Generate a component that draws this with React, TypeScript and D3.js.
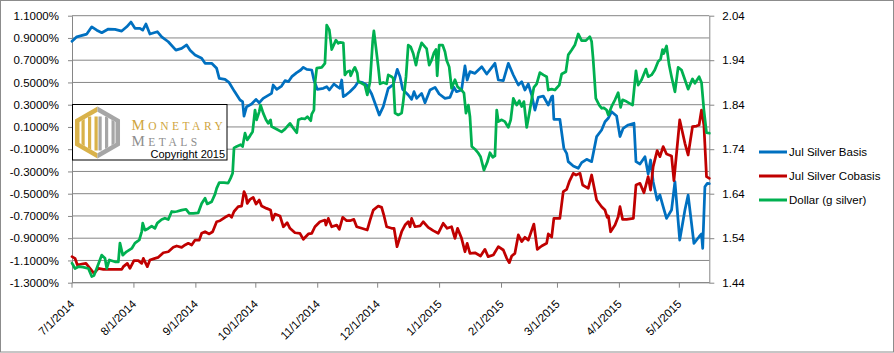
import React, { useEffect, useRef } from 'react';
import * as d3 from 'd3';

// day offsets counted from 7/1/2014
const startDate = new Date(2014, 6, 1);
const endDay = 319;

const monthTicks = ['7/1/2014', '8/1/2014', '9/1/2014', '10/1/2014', '11/1/2014', '12/1/2014', '1/1/2015', '2/1/2015', '3/1/2015', '4/1/2015', '5/1/2015'];
const leftTicks = [-1.3, -1.1, -0.9, -0.7, -0.5, -0.3, -0.1, 0.1, 0.3, 0.5, 0.7, 0.9, 1.1];
const rightTicks = [1.44, 1.54, 1.64, 1.74, 1.84, 1.94, 2.04];
const legendLabels = ['Jul Silver Basis', 'Jul Silver Cobasis', 'Dollar (g silver)'];
const seriesColors = ['#0070C0', '#C00000', '#00B050'];

// [day, basis %]
const basisSeries: [number, number][] = [
  [0, 0.87], [2.4, 0.91], [7.4, 0.935], [9.9, 1.0], [12.4, 0.97], [14.9, 0.947], [18.2, 0.98], [21.5, 0.977], [24.9, 0.962], [27.4, 1.0],
  [29.5, 1.043], [31.5, 0.987], [34, 0.987], [35.4, 0.97], [37, 1.025], [39, 0.935], [42.7, 0.956], [44.9, 0.91], [48.2, 0.866], [52, 0.79],
  [54.9, 0.806], [57.4, 0.837], [59.1, 0.79], [61.6, 0.747], [64.9, 0.717], [66.6, 0.672], [69.9, 0.672], [72.4, 0.627], [73.7, 0.537], [76.6, 0.528],
  [78.7, 0.498], [81.3, 0.42], [84.1, 0.342], [85.4, 0.327], [86.1, 0.198], [87.4, 0.282], [89.9, 0.306], [92.1, 0.348], [93.7, 0.318], [95.7, 0.357],
  [99.9, 0.402], [100.7, 0.477], [102.5, 0.438], [104.9, 0.468], [106.6, 0.516], [108.3, 0.507], [110, 0.552], [112.5, 0.588], [114.5, 0.612], [115.8, 0.636],
  [117.5, 0.618], [120, 0.612], [121.1, 0.522], [122.8, 0.438], [125.8, 0.447], [127.5, 0.462], [128.8, 0.432], [131.1, 0.486], [132.8, 0.462], [134.1, 0.447],
  [135, 0.522], [135.8, 0.372], [137.1, 0.387], [139.1, 0.417], [141.6, 0.462], [143.3, 0.507], [145.5, 0.498], [147.5, 0.477], [150, 0.396], [152, 0.297],
  [153.8, 0.207], [155.8, 0.282], [158.3, 0.447], [160.8, 0.48], [162.8, 0.618], [164.2, 0.552], [165.5, 0.438], [168.3, 0.387], [170, 0.348], [171.2, 0.417],
  [172.5, 0.357], [175, 0.402], [176.7, 0.318], [179.2, 0.432], [181.7, 0.456], [183.8, 0.396], [186.7, 0.357], [189.2, 0.366], [191.2, 0.456], [192.5, 0.417],
  [195, 0.432], [196.7, 0.648], [197.8, 0.522], [199.2, 0.597], [201.7, 0.582], [205.1, 0.642], [207.6, 0.576], [211.7, 0.672], [213.4, 0.522], [215.9, 0.516],
  [218.4, 0.672], [220.9, 0.567], [223.4, 0.477], [225.1, 0.507], [226.7, 0.432], [228.4, 0.486], [230.1, 0.387], [231.7, 0.252], [233.4, 0.366], [235.9, 0.378],
  [238.4, 0.297], [240.1, 0.372], [240.6, 0.378], [241.2, 0.169], [244.2, 0.169], [246.2, -0.092], [247.6, -0.137], [248.4, -0.212], [250.9, -0.251], [253.4, -0.272],
  [255.1, -0.221], [257.6, -0.191], [260.1, -0.212], [262.6, 0.013], [265.1, 0.073], [266.8, 0.147], [268.4, 0.178], [270.1, 0.237], [272.6, 0.198], [274.3, 0.013],
  [275.9, 0.088], [278.4, 0.118], [281.3, 0.133], [282.3, -0.212], [284.3, -0.233], [286.8, -0.167], [288.4, -0.323], [289.6, -0.197], [290.9, -0.392], [292.9, -0.557],
  [294.3, -0.512], [295.9, -0.617], [297.6, -0.722], [300.1, -0.647], [301.8, -0.392], [304.2, -0.917], [306.8, -0.647], [308.4, -0.512], [311.3, -0.946], [313.9, -0.887],
  [315.1, -0.862], [315.7, -0.991], [316.8, -0.437], [318, -0.407], [319, -0.41],
];

// [day, cobasis %]
const cobasisSeries: [number, number][] = [
  [0, -1.066], [1.5, -1.081], [2.7, -1.141], [4.9, -1.132], [7, -1.126], [9, -1.171], [11, -1.216], [13.2, -1.171], [15.7, -1.18], [19, -1.18],
  [22.4, -1.18], [24.9, -1.18], [25.7, -1.156], [27.7, -1.126], [29, -1.171], [31, -1.102], [33.2, -1.102], [34.9, -1.126], [35.7, -1.081], [37.7, -1.156],
  [39, -1.096], [41.5, -1.081], [43.2, -1.072], [45.7, -1.031], [48.2, -1.022], [50.7, -0.982], [52.4, -0.97], [54.9, -0.982], [56.6, -0.961], [58.2, -0.946],
  [59.9, -0.961], [61.6, -0.917], [63.7, -0.917], [64.9, -0.856], [66.6, -0.842], [68.7, -0.862], [70.4, -0.842], [72.4, -0.752], [74.1, -0.743], [76.6, -0.712],
  [78.7, -0.692], [79.9, -0.712], [81.1, -0.66], [83.2, -0.617], [84.9, -0.611], [86.1, -0.482], [87.1, -0.521], [87.7, -0.587], [89.1, -0.551], [90.7, -0.533],
  [92.1, -0.593], [93.7, -0.557], [94.9, -0.611], [97.4, -0.632], [99.4, -0.647], [100.4, -0.737], [101.6, -0.683], [104.1, -0.7], [105.8, -0.797], [107.7, -0.761],
  [109.1, -0.811], [111.6, -0.851], [114.1, -0.856], [115.8, -0.91], [118.3, -0.862], [120, -0.856], [121.6, -0.797], [124.1, -0.752], [126.6, -0.737], [127.1, -0.782],
  [128.3, -0.722], [130, -0.797], [132.5, -0.782], [133.8, -0.82], [135.5, -0.712], [137.5, -0.743], [139.1, -0.743], [141.1, -0.731], [142.5, -0.797], [145, -0.811],
  [147.8, -0.826], [149.2, -0.737], [150.8, -0.647], [153.3, -0.611], [155, -0.623], [156.2, -0.7], [157.5, -0.797], [160, -0.811], [161.2, -0.811], [162.7, -0.976],
  [165, -0.842], [166.7, -0.782], [168.3, -0.752], [169.2, -0.797], [170, -0.722], [171.7, -0.797], [174.2, -0.79], [175.8, -0.752], [178.3, -0.802], [180.8, -0.832],
  [183.3, -0.856], [185.8, -0.766], [187.8, -0.811], [190, -0.797], [191.7, -0.901], [193, -0.811], [195, -0.901], [196.7, -1.022], [197.8, -0.946], [199.2, -1.036],
  [201.7, -1.031], [204.5, -1.06], [206.7, -1.0], [208.3, -1.066], [210.9, -1.051], [213.4, -0.976], [215.9, -1.006], [217.6, -1.081], [218.9, -1.12], [220.1, -1.06],
  [221.7, -1.036], [223.4, -0.871], [225.1, -0.931], [226.7, -0.892], [228.4, -0.917], [231.2, -0.773], [232.9, -1.0], [235.1, -0.97], [237.6, -0.946], [238.4, -0.862],
  [240.1, -0.89], [241.2, -0.722], [244.2, -0.722], [245.9, -0.482], [247.6, -0.461], [248.9, -0.392], [250.9, -0.317], [252.3, -0.332], [254.3, -0.317], [255.6, -0.422],
  [258.4, -0.452], [260.1, -0.332], [262.6, -0.557], [265.1, -0.617], [266.8, -0.647], [267.9, -0.712], [268.5, -0.7], [269.6, -0.842], [271.8, -0.782], [273.4, -0.707],
  [274.3, -0.617], [275.6, -0.731], [277.6, -0.731], [281, -0.722], [282.3, -0.422], [284.3, -0.407], [286.3, -0.491], [288.4, -0.347], [289.6, -0.467], [290.9, -0.257],
  [292.9, -0.113], [294.3, -0.167], [295.9, -0.077], [297.6, -0.143], [300.1, -0.161], [301.3, -0.383], [304.2, 0.163], [306.8, -0.047], [308.4, -0.152], [310.6, 0.103],
  [312.6, 0.108], [313.9, 0.118], [315.1, 0.252], [316.3, 0.118], [317.6, -0.347], [319, -0.362],
];

// [day, dollar in grams of silver]
const dollarSeries: [number, number][] = [
  [0, 1.484], [1.5, 1.472], [3.2, 1.476], [5.5, 1.475], [8.2, 1.472], [9.9, 1.454], [11, 1.456], [12.7, 1.476], [14.9, 1.502], [16.5, 1.495],
  [17.4, 1.472], [18.7, 1.491], [21.5, 1.487], [23.2, 1.487], [24, 1.529], [25.4, 1.502], [27.4, 1.51], [29.9, 1.517], [31.5, 1.529], [33.7, 1.536],
  [34.9, 1.555], [35.4, 1.574], [36.5, 1.558], [38.2, 1.562], [39.9, 1.567], [41.5, 1.562], [42.7, 1.574], [44.9, 1.582], [46.5, 1.585], [48.2, 1.582],
  [49.9, 1.6], [51, 1.599], [52.4, 1.6], [54.9, 1.603], [57.1, 1.605], [58.7, 1.596], [60.7, 1.596], [63.2, 1.597], [64.9, 1.618], [66.6, 1.63],
  [67.7, 1.617], [69.9, 1.622], [71.6, 1.639], [72.4, 1.652], [73.7, 1.665], [76.1, 1.665], [78.2, 1.664], [79.4, 1.675], [80.4, 1.686], [81.1, 1.743],
  [82.4, 1.746], [84.4, 1.75], [85.4, 1.746], [86.6, 1.776], [87.7, 1.761], [89.1, 1.77], [90.4, 1.779], [91.6, 1.828], [92.4, 1.806], [93.7, 1.824],
  [94.4, 1.839], [95.7, 1.821], [97.1, 1.806], [98.2, 1.798], [99.4, 1.806], [99.9, 1.791], [102.5, 1.785], [104.9, 1.779], [106.6, 1.785], [108.3, 1.794],
  [109.1, 1.798], [110.5, 1.789], [112.5, 1.777], [113.3, 1.806], [115, 1.809], [116.5, 1.808], [117.8, 1.813], [119.5, 1.804], [120, 1.819], [121.1, 1.828],
  [121.6, 1.888], [122.5, 1.922], [125, 1.924], [126.6, 1.933], [127.5, 2.019], [128.8, 2.008], [130, 1.964], [132.1, 1.985], [133.3, 1.978], [134.1, 1.98],
  [135.8, 1.979], [136.6, 1.907], [137.8, 1.914], [139.1, 1.916], [139.5, 1.905], [140.8, 1.918], [141.6, 1.924], [142.8, 1.911], [143.3, 1.892], [145, 1.888],
  [146.6, 1.884], [147.8, 1.862], [149.2, 1.892], [150.5, 1.982], [151.1, 2.006], [152.1, 1.97], [153.3, 1.925], [154.2, 1.887], [155.8, 1.89], [157.5, 1.887],
  [158.3, 1.907], [160, 1.903], [160.8, 1.899], [161.7, 1.821], [163.3, 1.817], [165, 1.821], [165.8, 1.847], [167.2, 1.903], [168.3, 1.974], [169.5, 1.97],
  [170.8, 1.955], [172.2, 1.929], [173.3, 1.955], [175, 1.979], [176.7, 1.97], [177.5, 1.966], [178.8, 1.929], [180, 1.94], [181.2, 1.957], [182.2, 1.964],
  [182.8, 1.905], [183.8, 1.974], [185.5, 1.974], [186.7, 1.959], [187.5, 1.94], [188.8, 1.925], [190, 1.877], [191.7, 1.896], [193, 1.88], [195, 1.873],
  [196.2, 1.866], [197.2, 1.821], [198.4, 1.839], [199.2, 1.813], [200.1, 1.746], [201.7, 1.74], [203.4, 1.731], [204.5, 1.723], [206.2, 1.693], [207.8, 1.71],
  [209.2, 1.732], [210.6, 1.722], [211.7, 1.725], [212.6, 1.828], [213.4, 1.802], [215.1, 1.806], [216.7, 1.802], [217.6, 1.795], [218.4, 1.789], [219.6, 1.806],
  [220.9, 1.854], [222.6, 1.839], [223.9, 1.849], [225.1, 1.836], [226.2, 1.847], [227.6, 1.789], [228.9, 1.821], [230.1, 1.852], [231.2, 1.879], [232.6, 1.887],
  [234.2, 1.912], [235.9, 1.907], [237.6, 1.903], [238.4, 1.873], [240.1, 1.875], [241.7, 1.873], [243.9, 1.884], [245.1, 1.909], [247.2, 1.914], [248.4, 1.952],
  [250.1, 1.963], [251.7, 1.974], [253.4, 1.999], [255.1, 1.984], [257.2, 1.984], [259.2, 1.993], [260.1, 1.982], [260.9, 1.94], [262.2, 1.854], [263.9, 1.839],
  [265.1, 1.832], [266.2, 1.833], [267.6, 1.828], [268.4, 1.817], [270.1, 1.836], [271.8, 1.851], [273.4, 1.867], [274.6, 1.834], [275.6, 1.851], [277.6, 1.847],
  [280.6, 1.839], [282.3, 1.916], [283.4, 1.884], [285.1, 1.896], [287.3, 1.92], [288.4, 1.903], [290.1, 1.907], [291.7, 1.918], [293.4, 1.937], [294.6, 1.942],
  [295.6, 1.964], [296.2, 1.955], [297.6, 1.972], [298.9, 1.929], [300.1, 1.903], [301.8, 1.869], [303.4, 1.924], [305.1, 1.918], [306.8, 1.896], [308.4, 1.875],
  [310.6, 1.898], [311.8, 1.888], [313.9, 1.903], [315.1, 1.89], [316.3, 1.828], [317.6, 1.777], [319, 1.776],
];

const W = 894;
const H = 353;
const FONT = '"Liberation Sans", Arial, sans-serif';

const dayToDate = (d: number) => new Date(startDate.getTime() + d * 864e5);
const parseLabel = (s: string) => {
  const [m, d, y] = s.split('/').map(Number);
  return new Date(y, m - 1, d);
};

export default function App() {
  const svgRef = useRef<SVGSVGElement>(null);

  useEffect(() => {
    const svg = d3.select(svgRef.current);
    svg.selectAll('*').remove();

    const plot = { left: 72, right: 709.3, top: 15.7, bottom: 282.7 };
    const x = d3.scaleTime().domain([startDate, dayToDate(endDay)]).range([plot.left, plot.right]);
    const yL = d3.scaleLinear().domain([-1.3, 1.1]).range([plot.bottom, plot.top]);
    const yR = d3.scaleLinear().domain([1.44, 2.04]).range([plot.bottom, plot.top]);

    // chart border
    svg.append('rect')
      .attr('x', 0.5).attr('y', 0.5).attr('width', W - 1).attr('height', H - 1.5)
      .attr('fill', '#fff').attr('stroke', '#8c8c8c');

    // gridlines
    svg.append('g').selectAll('line')
      .data(leftTicks)
      .enter().append('line')
      .attr('x1', plot.left).attr('x2', plot.right)
      .attr('y1', d => yL(d)).attr('y2', d => yL(d))
      .attr('stroke', '#868686').attr('stroke-width', 1);

    // left axis
    const gl = svg.append('g')
      .attr('transform', `translate(${plot.left},0)`)
      .call(d3.axisLeft(yL).tickValues(leftTicks).tickSize(4).tickSizeOuter(0).tickPadding(9)
        .tickFormat(d => `${(+d).toFixed(4)}%`));
    gl.select('.domain').attr('stroke', '#868686');
    gl.selectAll('.tick line').attr('stroke', '#868686');
    gl.selectAll('text').attr('font-family', FONT).attr('font-size', 11.5).attr('fill', '#000');

    // right axis
    const gr = svg.append('g')
      .attr('transform', `translate(${plot.right},0)`)
      .call(d3.axisRight(yR).tickValues(rightTicks).tickSize(5).tickSizeOuter(0).tickPadding(8)
        .tickFormat(d => (+d).toFixed(2)));
    gr.select('.domain').attr('stroke', '#868686');
    gr.selectAll('.tick line').attr('stroke', '#868686');
    gr.selectAll('text').attr('font-family', FONT).attr('font-size', 11.5).attr('fill', '#000');

    // bottom axis
    const gb = svg.append('g');
    gb.append('line')
      .attr('x1', plot.left).attr('x2', plot.right)
      .attr('y1', plot.bottom).attr('y2', plot.bottom)
      .attr('stroke', '#868686');
    const ticks = gb.selectAll('g.xt')
      .data(monthTicks)
      .enter().append('g')
      .attr('class', 'xt');
    ticks.append('line')
      .attr('x1', d => x(parseLabel(d))).attr('x2', d => x(parseLabel(d)))
      .attr('y1', plot.bottom).attr('y2', plot.bottom + 5)
      .attr('stroke', '#868686');
    ticks.append('text')
      .attr('transform', d => `translate(${x(parseLabel(d)) + 3},${plot.bottom + 22}) rotate(-45)`)
      .attr('text-anchor', 'end')
      .attr('font-family', FONT).attr('font-size', 11.5).attr('fill', '#000')
      .text(d => d);

    // series
    const lineL = d3.line<[number, number]>()
      .x(d => x(dayToDate(d[0])))
      .y(d => yL(d[1]));
    const lineR = d3.line<[number, number]>()
      .x(d => x(dayToDate(d[0])))
      .y(d => yR(d[1]));

    const drawSeries = (data: [number, number][], gen: d3.Line<[number, number]>, color: string) => {
      svg.append('path')
        .datum(data)
        .attr('d', gen)
        .attr('fill', 'none')
        .attr('stroke', color)
        .attr('stroke-width', 2.75)
        .attr('stroke-linejoin', 'round')
        .attr('stroke-linecap', 'round');
    };
    drawSeries(basisSeries, lineL, seriesColors[0]);
    drawSeries(cobasisSeries, lineL, seriesColors[1]);
    drawSeries(dollarSeries, lineR, seriesColors[2]);

    // legend
    const lg = svg.append('g').attr('transform', 'translate(759,152)');
    legendLabels.forEach((label, i) => {
      const row = lg.append('g').attr('transform', `translate(0,${i * 24})`);
      row.append('line')
        .attr('x1', 0).attr('x2', 28).attr('y1', 0).attr('y2', 0)
        .attr('stroke', seriesColors[i]).attr('stroke-width', 3);
      row.append('text')
        .attr('x', 30).attr('y', 0).attr('dy', '0.35em')
        .attr('font-family', FONT).attr('font-size', 11.5).attr('fill', '#000')
        .text(label);
    });

    // logo box
    const logo = svg.append('g');
    logo.append('rect')
      .attr('x', 72.5).attr('y', 104.5).attr('width', 154.5).attr('height', 55.5)
      .attr('fill', '#fff').attr('stroke', '#000');

    const cx = 97.5, cy = 132.5, r = 26, hw = r * Math.sqrt(3) / 2;
    const gold = '#D9B24A', grey = '#A6A6A6';
    const hex = (s: number) => {
      const pts: [number, number][] = [
        [cx, cy - r * s], [cx + hw * s, cy - r * s / 2], [cx + hw * s, cy + r * s / 2],
        [cx, cy + r * s], [cx - hw * s, cy + r * s / 2], [cx - hw * s, cy - r * s / 2],
      ];
      return 'M' + pts.map(p => p.join(',')).join('L') + 'Z';
    };
    logo.append('path')
      .attr('d', `M${cx},${cy - r}L${cx},${cy + r}L${cx - hw},${cy + r / 2}L${cx - hw},${cy - r / 2}Z`)
      .attr('fill', gold);
    logo.append('path')
      .attr('d', `M${cx},${cy - r}L${cx + hw},${cy - r / 2}L${cx + hw},${cy + r / 2}L${cx},${cy + r}Z`)
      .attr('fill', grey);
    logo.append('path').attr('d', hex(0.8)).attr('fill', '#fff');
    const defs = svg.append('defs');
    defs.append('clipPath').attr('id', 'hexclip').append('path').attr('d', hex(0.8));
    const bars = logo.append('g').attr('clip-path', 'url(#hexclip)');
    [
      { dx: -16, c: gold }, { dx: -9.5, c: gold }, { dx: -3, c: gold },
      { dx: 1, c: grey }, { dx: 7.5, c: grey }, { dx: 14, c: grey },
    ].forEach(b => {
      bars.append('rect')
        .attr('x', cx + b.dx).attr('y', cy - 16).attr('width', 3.2).attr('height', 34)
        .attr('fill', b.c);
    });

    const serif = '"Liberation Serif", "DejaVu Serif", serif';
    const t1 = logo.append('text').attr('x', 131.5).attr('y', 129.5)
      .attr('font-family', serif).attr('fill', '#CFA53E').attr('letter-spacing', 3.5);
    t1.append('tspan').attr('font-size', 15).text('M');
    t1.append('tspan').attr('font-size', 11.5).text('ONETARY');
    const t2 = logo.append('text').attr('x', 131.5).attr('y', 146.4)
      .attr('font-family', serif).attr('fill', '#8E8E8E').attr('letter-spacing', 3.5);
    t2.append('tspan').attr('font-size', 15).text('M');
    t2.append('tspan').attr('font-size', 11.5).text('ETALS');
    logo.append('text').attr('x', 150.5).attr('y', 157.5)
      .attr('font-family', FONT).attr('font-size', 11).attr('fill', '#000')
      .text('Copyright 2015');
  }, []);

  return (
    <svg
      ref={svgRef}
      width={W}
      height={H}
      style={{ position: 'absolute', left: 0, top: 0, background: '#fff' }}
    />
  );
}
